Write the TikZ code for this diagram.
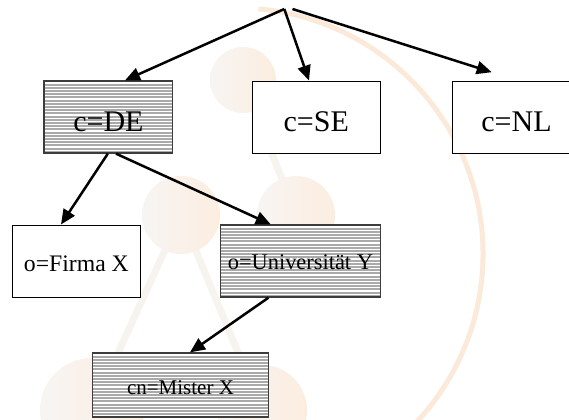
\documentclass[tikz,border=0pt]{standalone}
\usepackage{fontspec}
\setmainfont{Liberation Serif}
\usetikzlibrary{arrows.meta}
\definecolor{stripegray}{RGB}{170,170,170}
\definecolor{boxedge}{RGB}{60,60,60}
\definecolor{peach}{RGB}{251,233,217}
\definecolor{ballpale}{RGB}{247,245,243}
\definecolor{ballwarm}{RGB}{252,237,224}
\definecolor{stick}{RGB}{247,243,239}
\tikzset{
  entry/.style={draw=black, line width=1bp, fill=white, inner sep=0pt, minimum height=72bp},
  hatched/.style={draw=boxedge, line width=1.3bp, fill=stripegray, inner sep=0pt, minimum height=72bp,
    path picture={\foreach \k in {0,...,26}{
      \draw[white, line width=1.2bp]
        ([yshift=-\k*3.2bp-2bp]path picture bounding box.north west) --
        ([yshift=-\k*3.2bp-2bp]path picture bounding box.north east);}}},
  link/.style={line width=2.5bp, -{Triangle[length=15bp,width=13bp]}},
  big/.style={font=\fontsize{30bp}{33bp}\selectfont, text height=29.4bp, text depth=0pt},
  ball/.style={left color=ballpale, right color=ballwarm},
}
\begin{document}
\begin{tikzpicture}[x=1bp, y=-1bp]
\path[use as bounding box, clip] (0,0) rectangle (569,419);

% faint molecule watermark in the background
\begin{scope}[line width=7bp, draw=stick, line cap=round]
  \draw (243,80) -- (296,215);
  \draw (181,215) -- (92,410);
  \draw (181,215) -- (262,410);
\end{scope}
\shade[ball] (243,80) circle[radius=33];
\shade[ball] (181,215) circle[radius=39];
\shade[ball] (296,215) circle[radius=39];
\shade[ball] (262,410) circle[radius=45];
\shade[ball] (92,410) circle[radius=52];
\draw[peach, line width=5bp] (237,254) ++(-85:246) arc[start angle=-85, end angle=60, radius=246];

% directory tree
\node[hatched, big, minimum width=128.7bp] (de) at (108.4,117) {c=DE};
\node[entry, big, minimum width=128bp] (se) at (316.2,117) {c=SE};
\node[entry, big, minimum width=128bp] (nl) at (516.5,117) {c=NL};
\node[entry, font=\fontsize{23.7bp}{26bp}\selectfont, text height=20bp, text depth=0pt,
      minimum width=127.3bp] (firma) at (76.4,261) {o=Firma X};
\node[hatched, font=\fontsize{22.4bp}{25bp}\selectfont, text height=16.6bp, text depth=0pt,
      minimum width=160bp] (uni) at (300.4,261) {o=Universität Y\hspace{14bp}};
\node[hatched, minimum height=64bp, font=\fontsize{21bp}{24bp}\selectfont, text height=18.6bp,
      text depth=0pt, minimum width=176bp] (mister) at (180.5,385) {cn=Mister X};

\coordinate (root) at (284.3,9);
\coordinate (fork) at (292.5,9);
\draw[link] (root) -- ([xshift=16.6bp]de.north);
\draw[link] (root) -- ([xshift=-7.2bp]se.north);
\draw[link] (fork) -- ([xshift=-24.8bp,yshift=8.3bp]nl.north);
\draw[link] ([xshift=-0.6bp]de.south) -- ([xshift=-15.4bp]firma.north);
\draw[link] ([xshift=7.6bp]de.south) -- ([xshift=-29.7bp]uni.north);
\draw[link] ([xshift=-31.9bp]uni.south) -- ([xshift=9.5bp]mister.north);
\end{tikzpicture}
\end{document}
